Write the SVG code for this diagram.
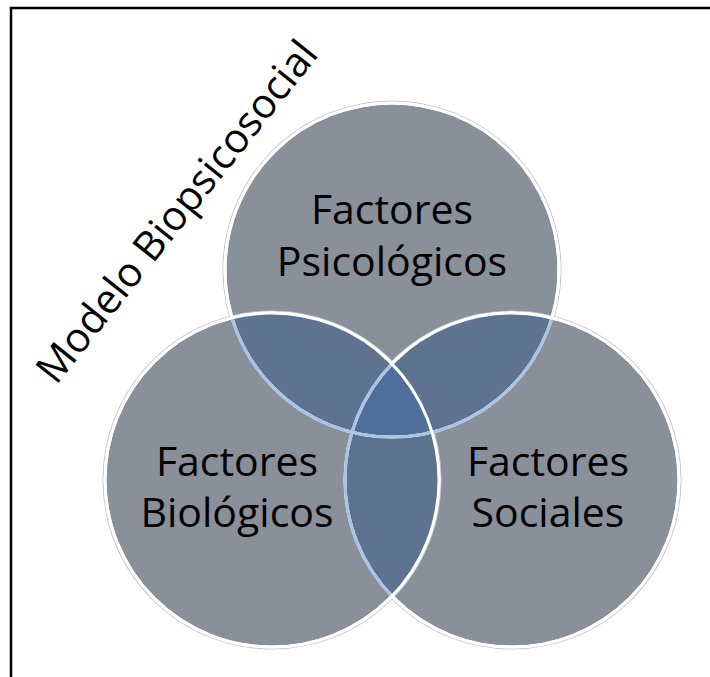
<svg xmlns="http://www.w3.org/2000/svg" width="710" height="677" viewBox="0 0 710 677">
<style>
.lbl{font-family:"Open Sans","Liberation Sans",sans-serif;font-size:41px;fill:#000;text-anchor:middle}
.title{font-family:"Open Sans","Liberation Sans",sans-serif;font-size:41px;fill:#000}
.base{fill:#8A9099}
.ov{fill:#5E7390}
.ctr{fill:#4F6F9A}
.ring{fill:none;stroke:#fff;stroke-width:3}
.halo{fill:none;stroke:#c4c6c9;stroke-width:5}
.blue{fill:none;stroke:#A9C3E4;stroke-width:3}
.frame{fill:none;stroke:#000;stroke-width:2.5}
</style>
<defs>
<circle id="cT" cx="392" cy="270" r="167"/>
<circle id="cL" cx="272" cy="480" r="167"/>
<circle id="cR" cx="512" cy="480" r="167"/>
<clipPath id="kL"><use href="#cL"/></clipPath>
<clipPath id="kR"><use href="#cR"/></clipPath>
<clipPath id="kLR"><use href="#cL"/><use href="#cR"/></clipPath>
</defs>
<rect width="710" height="677" fill="#fff"/>
<path class="frame" d="M11,677 V8 H710"/>
<text class="title" transform="translate(56,386) rotate(-51.5)">Modelo Biopsicosocial</text>
<g id="node-psicologicos">
<use href="#cT" class="halo"/>
<use href="#cT" class="base"/>
<use href="#cT" class="ring"/>
</g>
<g id="node-sociales">
<use href="#cR" class="halo"/>
<use href="#cR" class="base"/>
<use href="#cR" class="ring"/>
</g>
<g id="node-biologicos">
<use href="#cL" class="halo"/>
<use href="#cL" class="base"/>
<use href="#cL" class="ring"/>
</g>
<g id="connectors">
<g clip-path="url(#kL)"><use href="#cT" class="ov"/></g>
<g clip-path="url(#kR)"><use href="#cT" class="ov"/></g>
<g clip-path="url(#kL)"><use href="#cR" class="ov"/></g>
<g clip-path="url(#kL)"><g clip-path="url(#kR)"><use href="#cT" class="ctr"/></g></g>
<use href="#cT" class="ring"/>
<g clip-path="url(#kLR)"><use href="#cT" class="blue"/></g>
<use href="#cR" class="ring"/>
<g clip-path="url(#kL)"><use href="#cR" class="blue"/></g>
<use href="#cL" class="ring"/>
</g>
<g id="labels">
<text class="lbl" x="392" y="224">Factores</text>
<text class="lbl" x="392" y="276">Psicológicos</text>
<text class="lbl" x="237" y="476">Factores</text>
<text class="lbl" x="237" y="527">Biológicos</text>
<text class="lbl" x="548" y="476">Factores</text>
<text class="lbl" x="548" y="527">Sociales</text>
</g>
</svg>
